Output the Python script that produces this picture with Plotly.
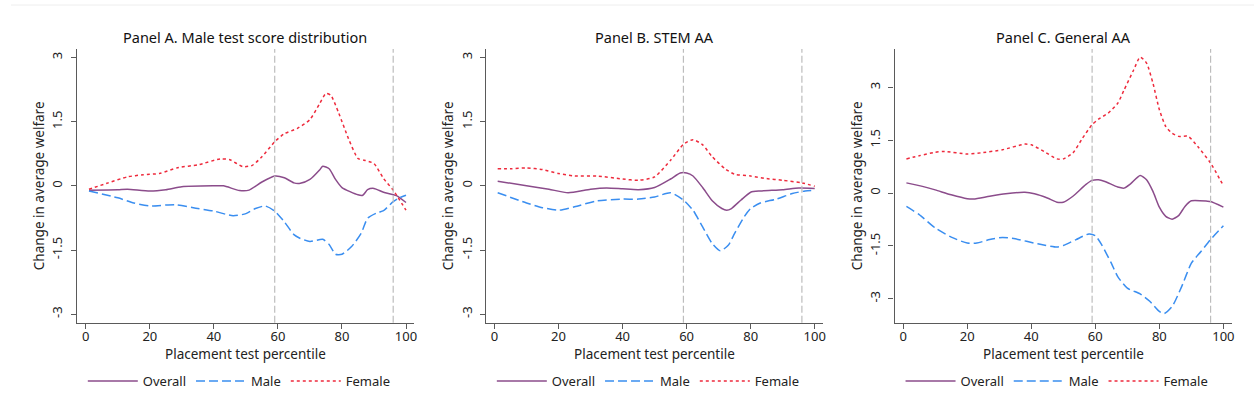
import plotly.graph_objects as go

# ---------------- data ----------------
panel_titles = ["Panel A. Male test score distribution", "Panel B. STEM AA", "Panel C. General AA"]
series_names = ["Overall", "Male", "Female"]

a_overall_x = [1, 10, 13, 20, 25, 30, 40, 43, 48, 51, 55, 59, 62, 65, 67, 70, 73, 74, 76, 78, 80, 85, 86.5, 88, 90, 93, 97, 100]
a_overall_y = [-0.10, -0.09, -0.08, -0.12, -0.09, -0.02, 0.0, 0.0, -0.11, -0.10, 0.09, 0.23, 0.19, 0.07, 0.06, 0.15, 0.37, 0.46, 0.40, 0.15, -0.04, -0.21, -0.22, -0.09, -0.06, -0.15, -0.23, -0.39]
a_male_x = [1, 10, 15, 20, 28, 35, 40, 46, 50, 53, 56, 59, 62, 65, 67, 70, 74, 76, 78, 80, 83, 86, 88, 91, 93, 96, 98, 100]
a_male_y = [-0.12, -0.28, -0.40, -0.47, -0.44, -0.53, -0.59, -0.70, -0.65, -0.53, -0.47, -0.59, -0.84, -1.14, -1.23, -1.30, -1.25, -1.37, -1.60, -1.60, -1.42, -1.11, -0.76, -0.63, -0.58, -0.37, -0.28, -0.22]
a_female_x = [1, 7, 13, 18, 23, 29, 35, 42, 45, 49, 52, 55, 59, 62, 66, 70, 73, 75, 76.5, 79, 82, 85, 87, 90, 93, 96, 100]
a_female_y = [-0.08, 0.07, 0.21, 0.26, 0.29, 0.43, 0.49, 0.63, 0.61, 0.45, 0.48, 0.68, 1.03, 1.22, 1.34, 1.55, 1.92, 2.16, 2.12, 1.70, 1.11, 0.64, 0.60, 0.52, 0.17, -0.10, -0.57]

b_overall_x = [1, 10, 17, 23, 30, 35, 40, 45, 50, 55, 58, 60, 62, 65, 68, 71, 72.5, 74, 77, 80, 83, 90, 95, 100]
b_overall_y = [0.11, 0.0, -0.08, -0.16, -0.08, -0.05, -0.07, -0.09, -0.04, 0.16, 0.30, 0.30, 0.23, -0.04, -0.35, -0.53, -0.57, -0.53, -0.33, -0.15, -0.12, -0.09, -0.05, -0.06]
b_male_x = [1, 10, 15, 20, 25, 32, 40, 45, 50, 55, 59, 62, 65, 68, 70.5, 73, 75, 78, 80, 83, 88, 93, 97, 100]
b_male_y = [-0.16, -0.40, -0.51, -0.57, -0.49, -0.35, -0.31, -0.31, -0.26, -0.16, -0.33, -0.57, -0.96, -1.35, -1.52, -1.39, -1.11, -0.72, -0.53, -0.40, -0.31, -0.18, -0.12, -0.10]
b_female_x = [1, 5, 10, 15, 20, 25, 32, 40, 45, 50, 55, 59, 62, 65, 68, 72, 75, 80, 85, 90, 96, 100]
b_female_y = [0.40, 0.40, 0.42, 0.38, 0.29, 0.23, 0.23, 0.16, 0.13, 0.21, 0.60, 0.97, 1.08, 0.96, 0.68, 0.40, 0.27, 0.23, 0.17, 0.13, 0.07, -0.01]

c_overall_x = [1, 6, 10, 15, 20, 22, 27, 32, 38, 41, 45, 48, 50, 53, 57, 59, 61, 63, 67, 69, 71, 74, 76, 78, 80, 82, 84, 86, 88, 90, 95, 96, 100]
c_overall_y = [0.29, 0.19, 0.09, -0.05, -0.16, -0.17, -0.09, -0.02, 0.02, -0.02, -0.14, -0.26, -0.26, -0.09, 0.24, 0.36, 0.38, 0.33, 0.17, 0.14, 0.26, 0.50, 0.38, 0.05, -0.40, -0.66, -0.74, -0.64, -0.38, -0.22, -0.23, -0.24, -0.40]
c_male_x = [1, 5, 10, 15, 20, 23, 27, 31, 35, 42, 48, 50, 54, 58, 60, 62, 65, 67, 70, 74, 77, 80, 81.5, 84, 87, 90, 93, 96, 100]
c_male_y = [-0.38, -0.61, -0.99, -1.25, -1.42, -1.42, -1.32, -1.26, -1.30, -1.44, -1.53, -1.49, -1.32, -1.16, -1.21, -1.47, -1.99, -2.37, -2.70, -2.86, -3.07, -3.36, -3.42, -3.22, -2.65, -1.99, -1.66, -1.32, -0.93]
c_female_x = [1, 5, 10, 13, 20, 25, 31, 38, 40, 44, 48, 50, 53, 56, 59, 61, 64, 67, 69, 72, 74, 76, 78, 80, 82, 84, 86, 89, 92, 96, 100]
c_female_y = [0.97, 1.06, 1.16, 1.18, 1.11, 1.15, 1.23, 1.39, 1.37, 1.18, 0.97, 0.97, 1.14, 1.56, 1.94, 2.10, 2.27, 2.55, 2.93, 3.50, 3.86, 3.69, 3.12, 2.37, 1.89, 1.70, 1.61, 1.61, 1.32, 0.85, 0.21]

cutoffs = [59, 96]
x_ticks = [0, 20, 40, 60, 80, 100]
y_ticks = [-3, -1.5, 0, 1.5, 3]
y_tick_labels = ["-3", "-1.5", "0", "1.5", "3"]

# ---------------- style ----------------
W, H = 1257, 420
FONT = "Noto Sans"
colors = {"Overall": "#8B4C8B", "Male": "#3A8EF0", "Female": "#EE2A3C"}
dashes = {"Overall": "solid", "Male": "9px,4px", "Female": "3px,3px"}

panels = [
    dict(data=[(a_overall_x, a_overall_y), (a_male_x, a_male_y), (a_female_x, a_female_y)],
         px=(77, 415), xr=[-2.8, 102.5], yr=[-3.2, 3.2]),
    dict(data=[(b_overall_x, b_overall_y), (b_male_x, b_male_y), (b_female_x, b_female_y)],
         px=(487, 825), xr=[-2.7, 102.6], yr=[-3.2, 3.2]),
    dict(data=[(c_overall_x, c_overall_y), (c_male_x, c_male_y), (c_female_x, c_female_y)],
         px=(896.7, 1235.3), xr=[-2.7, 102.8], yr=[-3.68, 4.09]),
]
y_top_px, y_bot_px = 49, 322.7
ydom = [1 - y_bot_px / H, 1 - y_top_px / H]

fig = go.Figure()
shapes = []
annotations = []
layout_axes = {}

for i, p in enumerate(panels):
    k = "" if i == 0 else str(i + 1)
    legend_id = "legend" if i == 0 else f"legend{i + 1}"
    for name, (xs, ys) in zip(series_names, p["data"]):
        fig.add_trace(go.Scatter(
            x=xs, y=ys, mode="lines", name=name,
            line=dict(color=colors[name], width=1.5, dash=dashes[name], shape="spline", smoothing=0.6),
            xaxis="x" + k, yaxis="y" + k, legend=legend_id, showlegend=True,
        ))
    xd = [p["px"][0] / W, p["px"][1] / W]
    axis_common = dict(showline=True, linecolor="#5a5a5a", linewidth=1.3, ticks="outside",
                       ticklen=5, tickcolor="#5a5a5a", showgrid=False, zeroline=False,
                       tickfont=dict(family=FONT, size=13, color="#222"))
    layout_axes["xaxis" + k] = dict(axis_common, domain=xd, range=p["xr"], anchor="y" + k,
                                   tickvals=x_ticks, ticklabelstandoff=-3,
                                   title=dict(text="Placement test percentile", standoff=0,
                                              font=dict(family=FONT, size=13.5, color="#222")))
    layout_axes["yaxis" + k] = dict(axis_common, domain=ydom, range=p["yr"], anchor="x" + k,
                                   tickvals=y_ticks, ticktext=y_tick_labels, tickangle=-90,
                                   ticklabelstandoff=3,
                                   title=dict(text="Change in average welfare", standoff=0,
                                              font=dict(family=FONT, size=13.5, color="#222")))
    for c in cutoffs:
        shapes.append(dict(type="line", xref="x" + k, yref="y" + k + " domain", x0=c, x1=c, y0=0, y1=1,
                           line=dict(color="#bdbdbd", width=1.2, dash="7px,3px")))
    annotations.append(dict(text=panel_titles[i], x=(xd[0] + xd[1]) / 2, y=1 - 36.7 / H,
                            xref="paper", yref="paper", xanchor="center", yanchor="middle",
                            showarrow=False, font=dict(family=FONT, size=14.5, color="#111")))
    layout_axes[legend_id] = dict(orientation="h", x=(p["px"][0] + 6) / W, y=1 - 381 / H,
                                  xanchor="left", yanchor="middle", bgcolor="rgba(0,0,0,0)",
                                  font=dict(family=FONT, size=13, color="#222"),
                                  itemwidth=50, tracegroupgap=0)

# faint top border line
shapes.append(dict(type="line", xref="paper", yref="paper", x0=11 / W, x1=1, y0=1 - 5 / H, y1=1 - 5 / H,
                   line=dict(color="#eeeeee", width=1)))

fig.update_layout(
    width=W, height=H, margin=dict(l=0, r=0, t=0, b=0),
    paper_bgcolor="white", plot_bgcolor="white",
    shapes=shapes, annotations=annotations,
    **layout_axes,
)

fig.write_html("out.html", config={"displayModeBar": False},
               post_script="document.body.style.margin='0';document.body.style.overflow='hidden';")
